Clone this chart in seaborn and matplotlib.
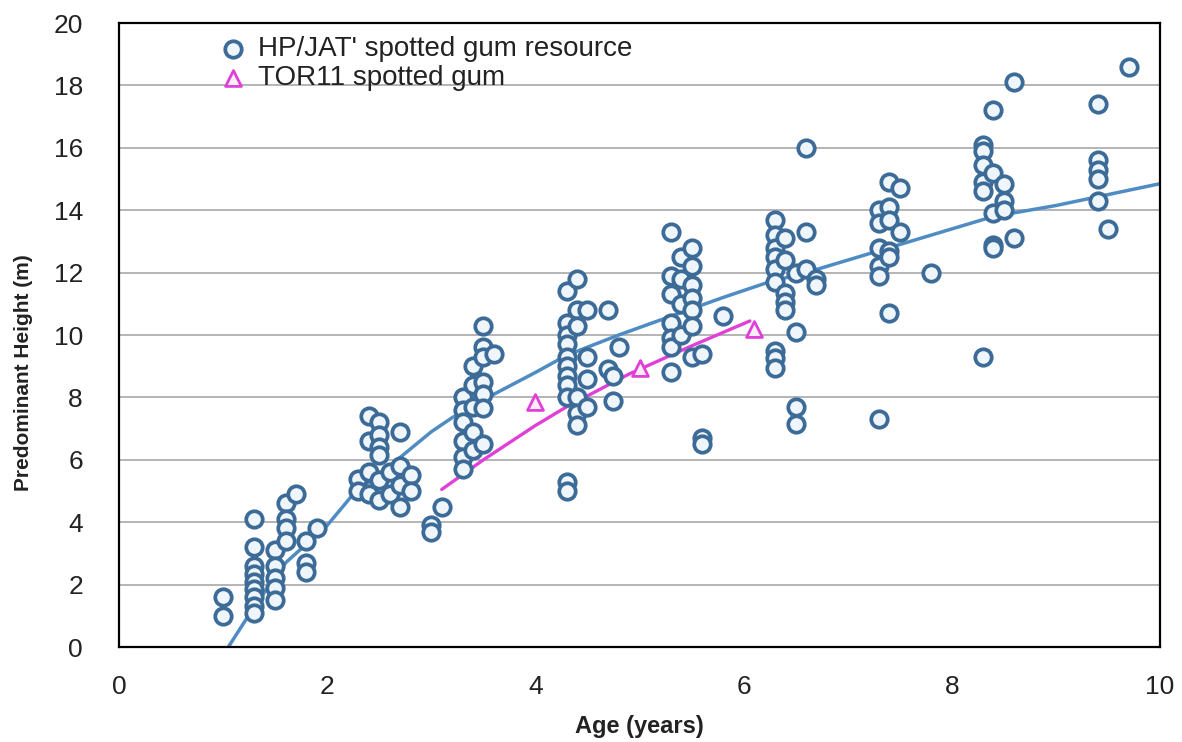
import numpy as np
import pandas as pd
import matplotlib
matplotlib.use("Agg")
import matplotlib.pyplot as plt
from matplotlib.ticker import MultipleLocator
import seaborn as sns

# HP/JAT' spotted gum resource plots: one age per column, heights
hp_ages = [1.0, 1.3, 1.5, 1.6, 1.7, 1.8, 1.9, 2.3, 2.4, 2.5, 2.6, 2.7, 2.8, 3.0, 3.1,
           3.3, 3.4, 3.5, 3.6, 4.3, 4.4, 4.5, 4.7, 4.75, 4.8, 5.3, 5.4, 5.5, 5.6, 5.8,
           6.3, 6.4, 6.5, 6.6, 6.7, 7.3, 7.4, 7.5, 7.8, 8.3, 8.4, 8.5, 8.6, 9.4, 9.5, 9.7]
hp_heights = [
    [1.6, 1.0],
    [4.1, 3.2, 2.6, 2.35, 2.1, 1.85, 1.6, 1.3, 1.1],
    [3.1, 2.6, 2.2, 1.9, 1.5],
    [4.6, 4.1, 3.8, 3.4],
    [4.9],
    [3.4, 2.7, 2.4],
    [3.8],
    [5.4, 5.0],
    [7.4, 6.6, 5.6, 4.9],
    [7.2, 6.8, 6.4, 6.15, 5.35, 4.7],
    [5.6, 4.9],
    [6.9, 5.8, 5.2, 4.5],
    [5.5, 5.0],
    [3.9, 3.7],
    [4.5],
    [8.0, 7.6, 7.2, 6.6, 6.1, 5.7],
    [9.0, 8.4, 7.7, 6.9, 6.3],
    [10.3, 9.6, 9.3, 8.5, 8.1, 7.65, 6.5],
    [9.4],
    [11.4, 10.4, 10.0, 9.7, 9.3, 9.0, 8.7, 8.4, 8.0, 5.3, 5.0],
    [11.8, 10.8, 10.3, 8.0, 7.5, 7.1],
    [10.8, 9.3, 8.6, 7.7],
    [10.8, 8.9],
    [8.7, 7.9],
    [9.6],
    [13.3, 11.9, 11.3, 10.4, 9.9, 9.6, 8.8],
    [12.5, 11.8, 11.0, 10.0],
    [12.8, 12.2, 11.6, 11.2, 10.8, 10.3, 9.3],
    [9.4, 6.7, 6.5],
    [10.6],
    [13.7, 13.2, 12.8, 12.5, 12.1, 11.7, 9.5, 9.25, 8.95],
    [13.1, 12.4, 11.35, 11.05, 10.8],
    [12.0, 10.1, 7.7, 7.15],
    [16.0, 13.3, 12.1],
    [11.8, 11.6],
    [14.0, 13.6, 12.8, 12.2, 11.9, 7.3],
    [14.9, 14.1, 13.7, 12.7, 12.5, 10.7],
    [14.7, 13.3],
    [12.0],
    [16.1, 15.9, 15.45, 14.9, 14.6, 9.3],
    [17.2, 15.2, 13.9, 12.9, 12.8],
    [14.85, 14.3, 14.0],
    [18.1, 13.1],
    [17.4, 15.6, 15.3, 15.0, 14.3],
    [13.4],
    [18.6],
]

# TOR11 trial
tor_ages = [4.0, 5.0, 6.1]
tor_heights = [7.85, 8.95, 10.2]

# fitted curves, sampled from the chart
hp_fit_age = [1.05, 1.3, 1.6, 2.0, 2.25, 2.6, 3.0, 3.2, 3.6, 4.0, 4.3, 4.8, 5.3, 5.8,
              6.2, 6.7, 7.3, 7.8, 8.4, 9.0, 9.5, 10.0]
hp_fit_height = [0.0, 1.3, 2.7, 3.9, 4.9, 5.8, 6.9, 7.35, 8.1, 8.8, 9.35, 10.0, 10.6, 11.2,
                 11.65, 12.1, 12.7, 13.2, 13.8, 14.15, 14.5, 14.85]
tor_fit_age = [3.1, 3.5, 4.0, 4.3, 4.9, 5.5, 6.06]
tor_fit_height = [5.05, 6.0, 7.1, 7.7, 8.75, 9.65, 10.45]

hp = pd.DataFrame({
    "age": [a for a, hs in zip(hp_ages, hp_heights) for _ in hs],
    "height": [h for hs in hp_heights for h in hs],
})
tor = pd.DataFrame({"age": tor_ages, "height": tor_heights})

sns.set_style("white")
plt.rcParams["font.family"] = ["Liberation Sans", "DejaVu Sans"]

blue_edge = "#3c6b98"
blue_line = "#4f8cc4"
magenta = "#e040d8"

fig = plt.figure(figsize=(11.82, 7.42), dpi=100)
ax = fig.add_axes([0.1007, 0.128, 0.8807, 0.841])

sns.lineplot(x=hp_fit_age, y=hp_fit_height, ax=ax, color=blue_line, linewidth=2.5)
sns.lineplot(x=tor_fit_age, y=tor_fit_height, ax=ax, color=magenta, linewidth=2.4)

sns.scatterplot(data=hp, x="age", y="height", ax=ax, marker="o", s=140,
                color="#eef6fc", edgecolor=blue_edge, linewidth=2.7,
                label="HP/JAT' spotted gum resource", zorder=3)
sns.scatterplot(data=tor, x="age", y="height", ax=ax, marker="^", s=130,
                color="#fbeefa", edgecolor=magenta, linewidth=2.0,
                label="TOR11 spotted gum", zorder=3)

ax.set_xlim(0, 10)
ax.set_ylim(0, 20)
ax.xaxis.set_major_locator(MultipleLocator(2))
ax.xaxis.set_minor_locator(MultipleLocator(1))
ax.yaxis.set_major_locator(MultipleLocator(2))
ax.yaxis.set_minor_locator(MultipleLocator(1))
ax.tick_params(which="both", direction="in", color="black", width=1.3)
ax.tick_params(which="major", length=6, labelsize=19, labelcolor="#222222")
ax.tick_params(axis="y", which="major", pad=26)
ax.tick_params(axis="x", which="major", pad=20)
ax.tick_params(which="minor", length=4)
ax.grid(axis="y", which="major", color="#a0a0a0", linewidth=1.1)
ax.set_axisbelow(True)
for s in ax.spines.values():
    s.set_color("black")
    s.set_linewidth(1.6)

ax.set_xlabel("Age (years)", fontsize=17, fontweight="bold", color="#222222", labelpad=12)
ax.set_ylabel("Predominant Height (m)", fontsize=15, fontweight="bold", color="#222222")
ax.yaxis.set_label_coords(-0.083, 0.44)

ax.legend(loc="upper left", bbox_to_anchor=(0.075, 1.01), frameon=False, fontsize=20,
          handletextpad=0.3, labelspacing=0.1, borderaxespad=0.3, handlelength=1.2,
          labelcolor="#222222")

fig.savefig("out.png", dpi=100)
